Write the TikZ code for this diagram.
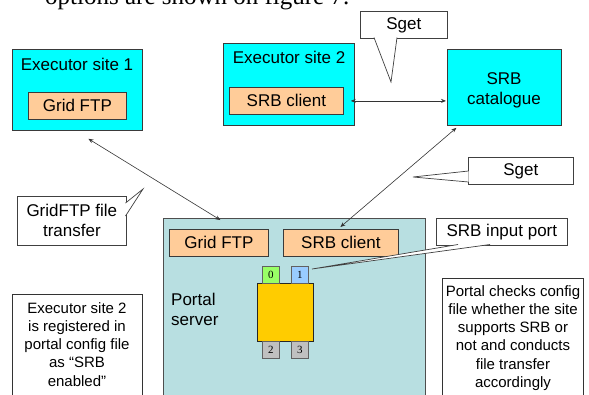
\documentclass[tikz,border=0pt]{standalone}
\usepackage{fontspec}
\setmainfont{Liberation Sans}
\newfontfamily\serifface{Liberation Serif}
\usetikzlibrary{arrows.meta,calc}
\definecolor{edge}{HTML}{3A3A3A}
\definecolor{sitecyan}{HTML}{00FFFF}
\definecolor{peach}{HTML}{FFCC99}
\definecolor{portalbg}{HTML}{B8DFE1}
\definecolor{blockyellow}{HTML}{FFCC00}
\definecolor{portgreen}{HTML}{99FF66}
\definecolor{portblue}{HTML}{99CCFF}
\definecolor{portgray}{HTML}{C0C0C0}
\tikzset{
  box/.style={draw=edge, line width=0.8pt, inner sep=0pt, anchor=north west},
  site/.style={box, fill=sitecyan},
  module/.style={box, fill=peach, font=\fontsize{17}{20}\selectfont},
  callout/.style={box, fill=white, draw=black!75, line width=0.7pt, font=\fontsize{17}{20}\selectfont, align=center},
  note/.style={box, fill=white, draw=black!80, line width=0.7pt},
  notetext/.style={font=\fontsize{15}{18.3}\selectfont, align=center, inner sep=0pt, anchor=north},
  port/.style={box, draw=edge!80, line width=0.7pt, minimum width=17pt, minimum height=17pt, font=\serifface\fontsize{11}{11}\selectfont},
  conn/.style={draw=black!80, line width=0.6pt, {Stealth[length=5pt,width=4pt]}-{Stealth[length=5pt,width=4pt]}},
  label/.style={font=\fontsize{17}{20}\selectfont, inner sep=0pt},
  pointer/.style={fill=white, draw=black!75, line width=0.7pt, line join=miter},
}
\begin{document}
\begin{tikzpicture}[x=1pt,y=-1pt]
\useasboundingbox (0,0) rectangle (589,394);

% running text above the figure
\node[anchor=base west, inner sep=0pt, font=\serifface\fontsize{25}{25}\selectfont] (heading) at (45,4) {options are shown on figure 7.};

% executor site 1
\node[site, minimum width=130pt, minimum height=81pt] (site1) at (12,49) {};
\node[label, anchor=base] (site1title) at (77,70) {Executor site 1};
\node[module, minimum width=98pt, minimum height=27pt] (site1ftp) at (28,92) {Grid FTP};

% executor site 2
\node[site, minimum width=131pt, minimum height=82pt] (site2) at (223,43) {};
\node[label, anchor=base] (site2title) at (289,63) {Executor site 2};
\node[module, minimum width=114pt, minimum height=27pt] (site2srb) at (229,87) {SRB client};

% SRB catalogue
\node[site, minimum width=114pt, minimum height=76pt] (catalogue) at (447,49) {};
\node[label, align=center] (cattext) at (504,90) {SRB\\catalogue};

% portal server
\node[box, fill=portalbg, draw=edge!90, minimum width=262pt, minimum height=200pt] (portal) at (163,218) {};
\node[module, minimum width=99pt, minimum height=27pt] (portalftp) at (169,229) {Grid FTP};
\node[module, minimum width=115pt, minimum height=27pt] (portalsrb) at (283,229) {SRB client};
\node[label, anchor=west, align=left] (portaltitle) at (171,309) {Portal\\server};

% job block with its ports
\node[box, fill=blockyellow, draw=black!85, minimum width=56pt, minimum height=58pt] (job) at (257,283) {};
\node[port, fill=portgreen] (p0) at (262,266) {0};
\node[port, fill=portblue] (p1) at (291,266) {1};
\node[port, fill=portgray] (p2) at (262,341) {2};
\node[port, fill=portgray] (p3) at (291,341) {3};

% file transfer connectors
\draw[conn] ([xshift=11pt,yshift=-8pt]site1.south) -- ([xshift=1.5pt,yshift=9pt]portalftp.north);
\draw[conn] ([xshift=7pt]site2srb.east) -- ([xshift=-1pt]catalogue.west |- site2srb.east);
\draw[conn] ([xshift=-48pt,yshift=-2pt]catalogue.south) -- ([xshift=-0.5pt,yshift=2pt]portalsrb.north);

% callout: Sget (upper)
\node[callout, minimum width=87pt, minimum height=27pt] (sgetA) at (360,11) {Sget};
\draw[pointer] (374,37.5) -- (391,82) -- (397,37.5);

% callout: Sget (right)
\node[callout, minimum width=105pt, minimum height=27pt] (sgetB) at (468,157) {Sget};
\draw[pointer] (468.5,171) -- (413,177) -- (468.5,182);

% callout: GridFTP file transfer
\node[callout, minimum width=109pt, minimum height=49pt] (gftp) at (17,196) {GridFTP file\\transfer};
\draw[pointer] (125.5,216) -- (143,189) -- (125.5,203);

% callout: SRB input port
\node[callout, minimum width=131pt, minimum height=27pt] (inport) at (436,218) {SRB input port};
\draw[pointer] (458,244.5) -- (312,269) -- (490,244.5);

% side notes
\node[note, minimum width=130pt, minimum height=120pt] (note1) at (12,294) {};
\node[notetext] (note1text) at (77,302) {Executor site 2\\is registered in\\portal config file\\as “SRB\\enabled”};
\node[note, minimum width=141pt, minimum height=140pt] (note2) at (442,278) {};
\node[notetext] (note2text) at (513,285) {Portal checks config\\file whether the site\\supports SRB or\\not and conducts\\file transfer\\accordingly};
\end{tikzpicture}
\end{document}
